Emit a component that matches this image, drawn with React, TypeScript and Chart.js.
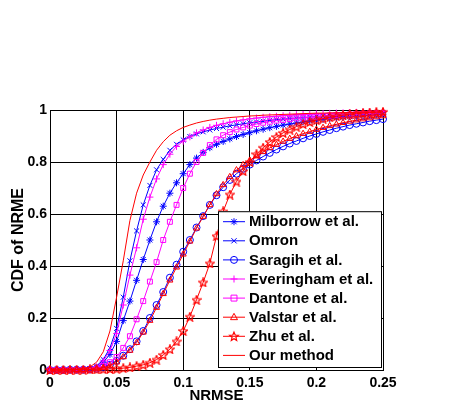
import React, { useEffect, useRef } from "react";
import { Chart, registerables } from "chart.js";

Chart.register(...registerables);

const NRMSE = [
  0, 0.005, 0.01, 0.015, 0.02, 0.025, 0.03, 0.035, 0.04, 0.045,
  0.05, 0.055, 0.06, 0.065, 0.07, 0.075, 0.08, 0.085, 0.09, 0.095,
  0.1, 0.105, 0.11, 0.115, 0.12, 0.125, 0.13, 0.135, 0.14, 0.145,
  0.15, 0.155, 0.16, 0.165, 0.17, 0.175, 0.18, 0.185, 0.19, 0.195,
  0.2, 0.205, 0.21, 0.215, 0.22, 0.225, 0.23, 0.235, 0.24, 0.245, 0.25,
];

const MILBORROW = [
  0, 0, 0, 0.001, 0.001, 0.002, 0.003, 0.01, 0.03, 0.06,
  0.11, 0.19, 0.265, 0.345, 0.425, 0.5, 0.57, 0.63, 0.68, 0.72,
  0.755, 0.79, 0.815, 0.837, 0.855, 0.868, 0.879, 0.889, 0.898, 0.906,
  0.913, 0.92, 0.926, 0.932, 0.937, 0.942, 0.946, 0.95, 0.954, 0.958,
  0.961, 0.964, 0.967, 0.97, 0.972, 0.974, 0.976, 0.978, 0.98, 0.982, 0.984,
];

const OMRON = [
  0, 0, 0, 0.001, 0.001, 0.002, 0.005, 0.015, 0.04, 0.085,
  0.16, 0.28, 0.42, 0.535, 0.635, 0.71, 0.77, 0.81, 0.845, 0.868,
  0.885, 0.898, 0.908, 0.916, 0.923, 0.929, 0.934, 0.939, 0.943, 0.947,
  0.951, 0.954, 0.957, 0.96, 0.963, 0.965, 0.967, 0.969, 0.971, 0.973,
  0.975, 0.977, 0.978, 0.98, 0.981, 0.983, 0.984, 0.985, 0.986, 0.987, 0.988,
];

const SARAGIH = [
  0, 0, 0, 0.001, 0.001, 0.001, 0.002, 0.005, 0.01, 0.02,
  0.035, 0.055, 0.08, 0.11, 0.15, 0.2, 0.25, 0.3, 0.355, 0.405,
  0.455, 0.5, 0.548, 0.592, 0.635, 0.672, 0.703, 0.731, 0.755, 0.774,
  0.79, 0.806, 0.821, 0.835, 0.848, 0.86, 0.871, 0.881, 0.891, 0.9,
  0.908, 0.916, 0.923, 0.93, 0.936, 0.942, 0.947, 0.952, 0.957, 0.961, 0.965,
];

const EVERINGHAM = [
  0, 0, 0, 0.001, 0.001, 0.002, 0.004, 0.012, 0.035, 0.075,
  0.14, 0.25, 0.365, 0.47, 0.58, 0.665, 0.735, 0.79, 0.83, 0.86,
  0.88, 0.897, 0.912, 0.923, 0.933, 0.941, 0.947, 0.953, 0.958, 0.962,
  0.966, 0.969, 0.972, 0.974, 0.976, 0.978, 0.98, 0.982, 0.983, 0.984,
  0.985, 0.986, 0.987, 0.988, 0.989, 0.99, 0.991, 0.992, 0.993, 0.993, 0.994,
];

const DANTONE = [
  0, 0, 0, 0, 0.001, 0.001, 0.002, 0.006, 0.015, 0.03,
  0.05, 0.085, 0.13, 0.195, 0.265, 0.34, 0.415, 0.5, 0.57, 0.635,
  0.7, 0.755, 0.8, 0.835, 0.865, 0.887, 0.903, 0.915, 0.925, 0.933,
  0.94, 0.946, 0.951, 0.955, 0.959, 0.962, 0.965, 0.968, 0.97, 0.972,
  0.974, 0.976, 0.978, 0.98, 0.981, 0.983, 0.984, 0.986, 0.987, 0.988, 0.989,
];

const VALSTAR = [
  0, 0, 0, 0, 0.001, 0.001, 0.002, 0.004, 0.008, 0.017,
  0.03, 0.05, 0.075, 0.105, 0.145, 0.19, 0.24, 0.293, 0.345, 0.395,
  0.445, 0.495, 0.545, 0.59, 0.635, 0.677, 0.712, 0.743, 0.769, 0.789,
  0.806, 0.823, 0.839, 0.854, 0.867, 0.879, 0.89, 0.9, 0.909, 0.917,
  0.925, 0.932, 0.939, 0.945, 0.951, 0.956, 0.961, 0.965, 0.969, 0.973, 0.977,
];

const ZHU = [
  0, 0, 0, 0.001, 0.001, 0.001, 0.002, 0.002, 0.003, 0.004,
  0.005, 0.007, 0.01, 0.015, 0.02, 0.028, 0.04, 0.058, 0.08, 0.11,
  0.15, 0.205, 0.27, 0.337, 0.41, 0.515, 0.61, 0.675, 0.725, 0.765,
  0.8, 0.83, 0.855, 0.877, 0.896, 0.912, 0.925, 0.936, 0.946, 0.954,
  0.961, 0.967, 0.972, 0.976, 0.98, 0.983, 0.986, 0.988, 0.99, 0.992, 0.993,
];

const OURS = [
  0, 0, 0, 0.001, 0.002, 0.005, 0.012, 0.03, 0.07, 0.15,
  0.28, 0.42, 0.575, 0.68, 0.75, 0.8, 0.845, 0.878, 0.903, 0.92,
  0.933, 0.942, 0.95, 0.956, 0.961, 0.965, 0.968, 0.971, 0.973, 0.975,
  0.977, 0.978, 0.98, 0.981, 0.982, 0.983, 0.984, 0.985, 0.986, 0.987,
  0.988, 0.988, 0.989, 0.989, 0.99, 0.99, 0.991, 0.991, 0.992, 0.992, 0.993,
];

const SERIES_NAMES = [
  "Milborrow et al.",
  "Omron",
  "Saragih et al.",
  "Everingham et al.",
  "Dantone et al.",
  "Valstar et al.",
  "Zhu et al.",
  "Our method",
];
const SERIES_VALUES = [MILBORROW, OMRON, SARAGIH, EVERINGHAM, DANTONE, VALSTAR, ZHU, OURS];
const SERIES_COLORS = ["#0000ff", "#0000ff", "#0000ff", "#ff00ff", "#ff00ff", "#ff0000", "#ff0000", "#ff0000"];
const SERIES_MARKERS = ["star", "crossRot", "circle", "cross", "rect", "triangle", "pentagram", "none"];

const X_TICKS = [0, 0.05, 0.1, 0.15, 0.2, 0.25];
const Y_TICKS = [0, 0.2, 0.4, 0.6, 0.8, 1];
const X_TITLE = "NRMSE";
const Y_TITLE = "CDF of NRME";

const FONT = "'Liberation Sans', Arial, Helvetica, sans-serif";

function pentagramPath(ctx: CanvasRenderingContext2D, cx: number, cy: number, r: number) {
  const inner = r * 0.45;
  ctx.beginPath();
  for (let i = 0; i < 10; i++) {
    const rad = i % 2 === 0 ? r : inner;
    const a = -Math.PI / 2 + (i * Math.PI) / 5;
    const px = cx + rad * Math.cos(a);
    const py = cy + rad * Math.sin(a);
    if (i === 0) ctx.moveTo(px, py);
    else ctx.lineTo(px, py);
  }
  ctx.closePath();
}

function makePentagram(color: string): HTMLCanvasElement {
  const c = document.createElement("canvas");
  c.width = 10;
  c.height = 10;
  const ctx = c.getContext("2d")!;
  pentagramPath(ctx, 5, 5.4, 4.6);
  ctx.strokeStyle = color;
  ctx.lineWidth = 1.2;
  ctx.stroke();
  return c;
}

function drawMarker(ctx: CanvasRenderingContext2D, style: string, x: number, y: number, r: number, color: string) {
  ctx.save();
  ctx.strokeStyle = color;
  ctx.lineWidth = 1;
  ctx.beginPath();
  if (style === "circle") {
    ctx.arc(x, y, r, 0, Math.PI * 2);
    ctx.stroke();
  } else if (style === "rect") {
    ctx.rect(x - r * 0.85, y - r * 0.85, r * 1.7, r * 1.7);
    ctx.stroke();
  } else if (style === "triangle") {
    ctx.moveTo(x, y - r * 1.1);
    ctx.lineTo(x + r, y + r * 0.7);
    ctx.lineTo(x - r, y + r * 0.7);
    ctx.closePath();
    ctx.stroke();
  } else if (style === "cross") {
    ctx.moveTo(x - r, y);
    ctx.lineTo(x + r, y);
    ctx.moveTo(x, y - r);
    ctx.lineTo(x, y + r);
    ctx.stroke();
  } else if (style === "crossRot") {
    const d = r * 0.75;
    ctx.moveTo(x - d, y - d);
    ctx.lineTo(x + d, y + d);
    ctx.moveTo(x + d, y - d);
    ctx.lineTo(x - d, y + d);
    ctx.stroke();
  } else if (style === "star") {
    const d = r * 0.75;
    ctx.moveTo(x - r, y);
    ctx.lineTo(x + r, y);
    ctx.moveTo(x, y - r);
    ctx.lineTo(x, y + r);
    ctx.moveTo(x - d, y - d);
    ctx.lineTo(x + d, y + d);
    ctx.moveTo(x + d, y - d);
    ctx.lineTo(x - d, y + d);
    ctx.stroke();
  } else if (style === "pentagram") {
    pentagramPath(ctx, x, y + 0.4, r * 1.3);
    ctx.lineWidth = 1.2;
    ctx.stroke();
  }
  ctx.restore();
}

const boxLegend = {
  id: "boxLegend",
  afterDraw(chart: any) {
    const { ctx, chartArea } = chart;
    const left = chartArea.left + 168;
    const right = chartArea.right - 2;
    const bottom = chartArea.bottom - 3;
    const rowH = 19.1;
    const top = bottom - rowH * 8 - 3;
    ctx.save();
    ctx.fillStyle = "#ffffff";
    ctx.fillRect(left, top, right - left, bottom - top);
    ctx.strokeStyle = "#000000";
    ctx.lineWidth = 1;
    ctx.strokeRect(left + 0.5, top + 0.5, right - left, bottom - top);
    ctx.font = `bold 15px ${FONT}`;
    ctx.textBaseline = "middle";
    ctx.textAlign = "left";
    SERIES_NAMES.forEach((name, i) => {
      const y = top + 10 + i * rowH;
      const color = SERIES_COLORS[i];
      ctx.strokeStyle = color;
      ctx.lineWidth = 1;
      ctx.beginPath();
      ctx.moveTo(left + 5, y + 0.5);
      ctx.lineTo(left + 27, y + 0.5);
      ctx.stroke();
      drawMarker(ctx, SERIES_MARKERS[i], left + 16, y + 0.5, 3.5, color);
      ctx.fillStyle = "#000000";
      ctx.fillText(name, left + 31, y + 1);
    });
    ctx.restore();
  },
};

export default function App() {
  const ref = useRef<HTMLCanvasElement | null>(null);

  useEffect(() => {
    if (!ref.current) return;
    const datasets = SERIES_NAMES.map((name, i) => {
      const marker = SERIES_MARKERS[i];
      const color = SERIES_COLORS[i];
      const pointStyle: any = marker === "pentagram" ? makePentagram(color) : marker === "none" ? false : marker;
      return {
        label: name,
        data: NRMSE.map((x, k) => ({ x, y: SERIES_VALUES[i][k] })),
        borderColor: color,
        backgroundColor: "rgba(0,0,0,0)",
        borderWidth: 1,
        pointStyle,
        pointRadius: marker === "none" ? 0 : 3.5,
        pointBorderColor: color,
        pointBackgroundColor: "rgba(0,0,0,0)",
        pointBorderWidth: 1,
        tension: 0,
        clip: false as any,
        order: SERIES_NAMES.length - i,
      };
    });

    const chart = new Chart(ref.current, {
      type: "line",
      data: { datasets },
      plugins: [boxLegend],
      options: {
        animation: false,
        responsive: false,
        devicePixelRatio: 1,
        layout: { padding: { top: 110, right: 75, left: 0, bottom: 0 } },
        plugins: { legend: { display: false }, tooltip: { enabled: false } },
        scales: {
          x: {
            type: "linear",
            min: 0,
            max: 0.25,
            afterFit: (s: any) => {
              s.height = 36;
            },
            afterBuildTicks: (s: any) => {
              s.ticks = X_TICKS.map((v) => ({ value: v }));
            },
            ticks: {
              autoSkip: false,
              maxRotation: 0,
              padding: 5,
              color: "#000",
              font: { family: FONT, size: 14, weight: "bold" },
              callback: (v: any) => String(+Number(v).toFixed(2)),
            },
            grid: { color: "#000", lineWidth: 1, drawTicks: false },
            border: { color: "#000", width: 1 },
            title: {
              display: true,
              text: X_TITLE,
              color: "#000",
              font: { family: FONT, size: 15, weight: "bold" },
              padding: { top: 0, bottom: 1 },
            },
          },
          y: {
            type: "linear",
            min: 0,
            max: 1,
            afterFit: (s: any) => {
              s.width = 50;
            },
            afterBuildTicks: (s: any) => {
              s.ticks = Y_TICKS.map((v) => ({ value: v }));
            },
            ticks: {
              padding: 3,
              color: "#000",
              font: { family: FONT, size: 14, weight: "bold" },
              callback: (v: any) => String(+Number(v).toFixed(2)),
            },
            grid: { color: "#000", lineWidth: 1, drawTicks: false },
            border: { color: "#000", width: 1 },
            title: {
              display: true,
              text: Y_TITLE,
              color: "#000",
              font: { family: FONT, size: 16, weight: "bold" },
              padding: { top: 9, bottom: 0 },
            },
          },
        },
      } as any,
    });
    return () => chart.destroy();
  }, []);

  return (
    <div style={{ position: "absolute", left: 0, top: 0, width: 458, height: 406, background: "#fff" }}>
      <canvas ref={ref} width={458} height={406} style={{ width: 458, height: 406, display: "block" }} />
    </div>
  );
}
